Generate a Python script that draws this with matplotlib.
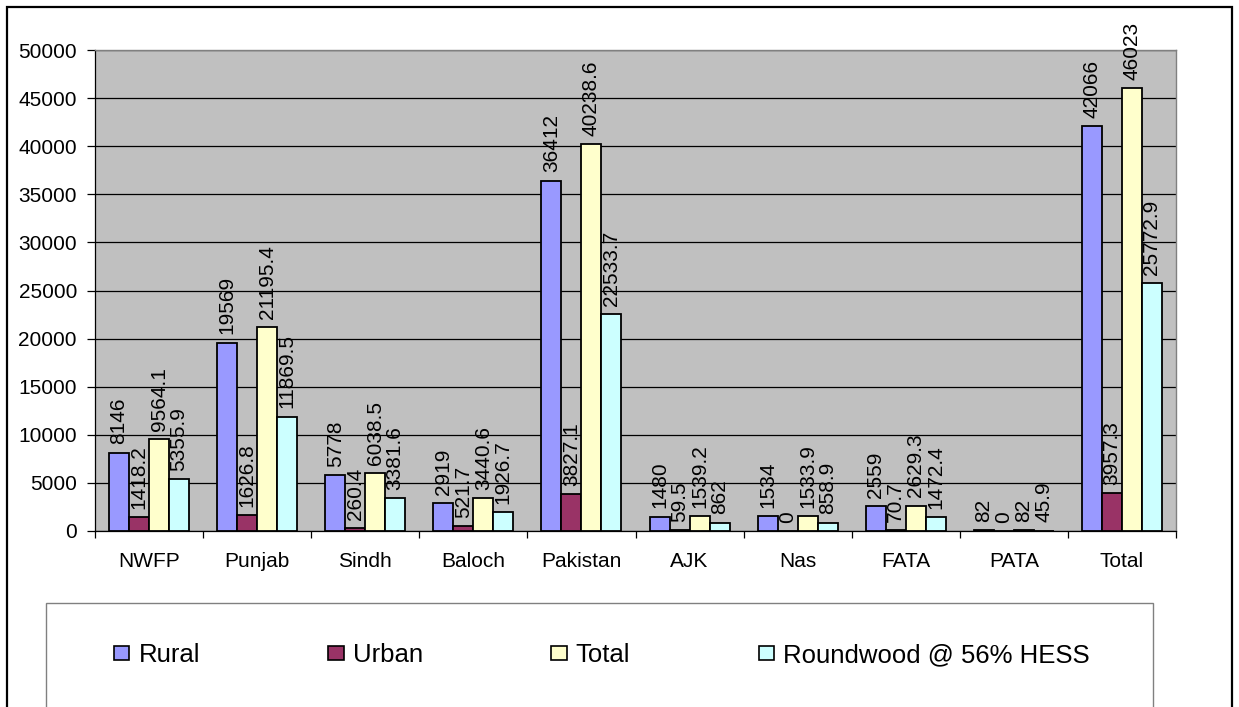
import matplotlib
matplotlib.use("Agg")
import matplotlib.pyplot as plt
from matplotlib.patches import Rectangle, Patch
import numpy as np

plt.rcParams['font.family'] = ['Liberation Sans', 'DejaVu Sans']

categories = ["NWFP", "Punjab", "Sindh", "Baloch", "Pakistan", "AJK", "Nas", "FATA", "PATA", "Total"]
rural = [8146, 19569, 5778, 2919, 36412, 1480, 1534, 2559, 82, 42066]
urban = [1418.2, 1626.8, 260.4, 521.7, 3827.1, 59.5, 0, 70.7, 0, 3957.3]
total = [9564.1, 21195.4, 6038.5, 3440.6, 40238.6, 1539.2, 1533.9, 2629.3, 82, 46023]
roundwood = [5355.9, 11869.5, 3381.6, 1926.7, 22533.7, 862, 858.9, 1472.4, 45.9, 25772.9]

series_names = ["Rural", "Urban", "Total", "Roundwood @ 56% HESS"]
series_values = [rural, urban, total, roundwood]
series_colors = ["#9999FF", "#993366", "#FFFFCC", "#CCFFFF"]
y_ticks = list(range(0, 50001, 5000))

W, H = 1239, 707
fig = plt.figure(figsize=(W / 100, H / 100), dpi=100)
fig.patch.set_facecolor("white")

ax = fig.add_axes([95 / W, 1 - 531 / H, 1081 / W, 481 / H])
ax.set_facecolor("#C0C0C0")

x = np.arange(len(categories))
bar_w = 0.185
offsets = (np.arange(len(series_values)) - 1.5) * bar_w

for vals, color, off, name in zip(series_values, series_colors, offsets, series_names):
    bars = ax.bar(x + off, vals, width=bar_w, color=color, edgecolor="black",
                  linewidth=1.3, zorder=3, label=name)
    for rect, v in zip(bars, vals):
        ax.annotate("{:g}".format(v),
                    xy=(rect.get_x() + rect.get_width() / 2, rect.get_height()),
                    xytext=(0, 6), textcoords="offset points",
                    rotation=90, ha="center", va="bottom",
                    fontsize=15, color="black", zorder=4)

ax.set_xlim(-0.5, len(categories) - 0.5)
ax.set_ylim(0, 50000)
ax.set_yticks(y_ticks)
ax.set_yticklabels([str(t) for t in y_ticks], fontsize=15)
ax.yaxis.grid(True, color="black", linewidth=0.9, zorder=1)
ax.set_axisbelow(True)

# category boundaries carry the tick marks, names sit at the centres
ax.set_xticks(np.arange(len(categories) + 1) - 0.5)
ax.set_xticklabels([])
ax.set_xticks(x, minor=True)
ax.set_xticklabels(categories, minor=True, fontsize=15)
ax.tick_params(axis="x", which="major", direction="out", length=5, width=0.9, color="black")
ax.tick_params(axis="x", which="minor", length=0, pad=15)
ax.tick_params(axis="y", direction="out", length=6, width=0.9, pad=7, color="black")

for side in ("top", "right"):
    ax.spines[side].set_color("#808080")
    ax.spines[side].set_linewidth(1.0)
for side in ("left", "bottom"):
    ax.spines[side].set_color("black")
    ax.spines[side].set_linewidth(0.9)

# legend frame
fig.add_artist(Rectangle((46 / W, -0.1), (1153 - 46) / W, (1 - 603 / H) + 0.1,
                         transform=fig.transFigure, facecolor="none",
                         edgecolor="#808080", linewidth=1.0))

handles = [Patch(facecolor=c, edgecolor="black", linewidth=1.2) for c in series_colors]
fig.legend(handles, series_names, ncol=4, loc="center left",
           bbox_to_anchor=(114 / W, 1 - 655 / H), frameon=False,
           fontsize=18.5, borderpad=0, borderaxespad=0,
           handlelength=0.6, handleheight=0.5, handletextpad=0.35,
           columnspacing=5.0)

# outer chart border
fig.add_artist(Rectangle((7 / W, -0.1), (1232 - 7) / W, (1 - 7 / H) + 0.1,
                         transform=fig.transFigure, facecolor="none",
                         edgecolor="black", linewidth=1.6))

fig.savefig("out.png", dpi=100)
